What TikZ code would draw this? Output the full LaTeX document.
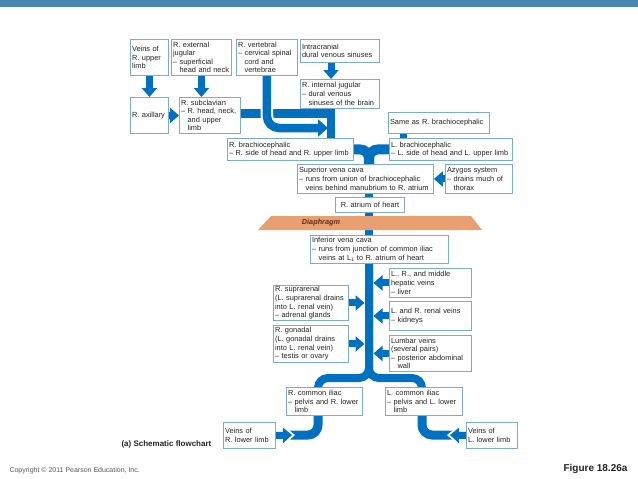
\documentclass[tikz,border=0pt]{standalone}
\usepackage{fontspec}
\setmainfont{Liberation Sans}
\usetikzlibrary{arrows.meta,backgrounds,calc}
\definecolor{vein}{RGB}{0,112,192}
\definecolor{boxc}{RGB}{125,172,202}
\definecolor{hdr}{RGB}{72,134,180}
\definecolor{diaph}{RGB}{233,160,112}
\definecolor{diatext}{RGB}{95,45,25}
\definecolor{txt}{RGB}{35,35,35}
\newcommand\ind{\hphantom{– }}
\tikzset{
  box/.style={draw=boxc, line width=0.9pt, fill=white, anchor=north west, align=left,
    inner xsep=1.6pt, inner ysep=0.5pt, font=\fontsize{7.4}{8.6}\selectfont, text=txt},
  band/.style={draw=vein, line width=8.5pt},
  varr/.style={draw=vein, line width=7pt, -{Triangle[width=15pt,length=9pt]}},
  warr/.style={draw=white, line width=7pt, -{Triangle[width=20pt,length=12pt]}},
}
\newcommand\vbx[7][]{%
  \pgfmathsetmacro\bxw{#5-#3}\pgfmathsetmacro\bxh{#6-#4}\pgfmathsetmacro\bxt{#5-#3-3.2}%
  \node[box,#1,minimum width=\bxw pt,minimum height=\bxh pt,text width=\bxt pt] (#2) at (#3,#4) {#7};}
\begin{document}
\begin{tikzpicture}[x=1pt,y=-1pt]
\useasboundingbox (0,0) rectangle (638,479);
\fill[hdr] (0,0) rectangle (638,7);

% boxes
\vbx{vul}{130}{39}{168}{75}{Veins of\\R. upper\\limb}
\vbx{rej}{171}{39}{231}{75}{R. external\\jugular\\– superficial\\\ind head and neck}
\vbx{rv}{236}{39}{297}{75}{R. vertebral\\– cervical spinal\\\ind cord and\\\ind vertebrae}
\vbx{ic}{300}{39}{379}{62}{Intracranial\\dural venous sinuses}
\vbx{rij}{300}{79}{379}{108}{R. internal jugular\\– dural  venous\\\ind sinuses of the brain}
\vbx{rax}{130}{97}{168}{133}{R. axillary}
\vbx{rsc}{179}{97}{240}{133}{R. subclavian\\– R. head, neck,\\\ind and upper\\\ind limb}
\vbx{same}{388}{112}{489}{133}{Same as R. brachiocephalic}
\vbx{rbc}{227}{138}{353}{160}{R. brachiocephalic\\– R. side of head and R. upper limb}
\vbx{lbc}{389}{138}{512}{160}{L. brachiocephalic\\– L. side of head and L. upper limb}
\vbx{svc}{297}{164}{433}{193}{Superior vena cava\\– runs from union of brachiocephalic\\\ind veins behind manubrium to R. atrium}
\vbx{az}{445}{164}{512}{193}{Azygos system\\– drains much of\\\ind thorax}
\vbx[align=center]{ra}{335}{197}{404}{212}{R. atrium of heart}
\vbx{ivc}{310}{235}{448}{263}{Inferior vena cava\\– runs from junction of common iliac\\\ind veins at L\textsubscript{1} to R. atrium of heart}
\vbx{hep}{389}{268}{471}{297}{L., R., and middle\\hepatic veins\\– liver}
\vbx{srn}{273}{285}{348}{320}{R. suprarenal\\(L. suprarenal drains\\into L. renal vein)\\– adrenal glands}
\vbx{ren}{389}{301}{471}{330}{L. and R. renal veins\\– kidneys}
\vbx{gon}{273}{325}{348}{362}{R. gonadal\\(L. gonadal drains\\into L. renal vein)\\– testis or ovary}
\vbx{lum}{389}{335}{471}{371}{Lumbar veins\\(several pairs)\\– posterior abdominal\\\ind wall}
\vbx{rci}{286}{387}{362}{415}{R. common iliac\\– pelvis and R. lower\\\ind limb}
\vbx{lci}{385}{387}{462}{415}{L. common iliac\\– pelvis and L. lower\\\ind limb}
\vbx{rll}{223}{422}{275}{448}{Veins of\\R. lower limb}
\vbx{lll}{466}{422}{517}{448}{Veins of\\L. lower limb}

\node[anchor=west, font=\fontsize{8}{9}\selectfont\bfseries, text=txt] (cap) at (118,444) {(a) Schematic flowchart};
\node[anchor=west, font=\fontsize{7}{8}\selectfont, text=black!65] (copy) at (6,471) {Copyright © 2011 Pearson Education, Inc.};
\node[anchor=east, font=\fontsize{10}{12}\selectfont\bfseries, text=txt] (fig) at (631,469) {Figure 18.26a};

% helper coordinates
\coordinate (ijx) at (331,0);
\coordinate (tx) at (369,0);
\coordinate (sx) at (403,0);
\coordinate (vtip) at (328,128);
\coordinate (tl) at (364.5,0);
\coordinate (tr) at (373.5,0);
\coordinate (split) at (0,378);
\coordinate (rlx) at (318,0);
\coordinate (llx) at (422,0);
\coordinate (rlb) at (284,435);
\coordinate (rlend) at (292,435);
\coordinate (llb) at (458,435);
\coordinate (llend) at (450,435);

\begin{scope}[on background layer]
  % head and neck
  \draw[varr] (vul.south) -- (rax.north);
  \draw[varr] (rej.south) -- (rej.south |- rsc.north);
  \draw[varr] (rax.east) -- (rsc.west);
  \draw[varr] (ic.south -| ijx) -- (rij.north -| ijx);
  \draw[band] (rij.south -| ijx) -- (rbc.north -| ijx);
  \draw[band] ([yshift=2pt]rsc.east) -- ([xshift=4pt,yshift=2pt]rsc.east -| ijx);
  \draw[white, line width=12.5pt, rounded corners=12pt, shorten >=9pt] (rv.south) |- (vtip);
  \draw[band, rounded corners=12pt, -{Triangle[width=17pt,length=10pt]}] (rv.south) |- (vtip);
  % brachiocephalic T
  \draw[band, line width=10pt, rounded corners=9pt] (rbc.east) -| (svc.north -| tx);
  \draw[band, line width=10pt, rounded corners=9pt] (lbc.west) -| (svc.north -| tx);
  \draw[band, line width=7pt] (same.south -| sx) -- (lbc.north -| sx);
  \draw[varr] (az.west) -- (svc.east);
  % central trunk
  \draw[band, line width=8pt] (svc.south -| tx) -- (ivc.north -| tx);
  \fill[diaph] (271,216) -- (471,216) -- (482,230) -- (258,230) -- cycle;
  % tributaries of IVC
  \draw[varr] (hep.west) -- (hep.west -| tr);
  \draw[varr] (srn.east) -- (srn.east -| tl);
  \draw[varr] (ren.west) -- (ren.west -| tr);
  \draw[varr] (gon.east) -- (gon.east -| tl);
  \draw[varr] (lum.west) -- (lum.west -| tr);
  % iliac split
  \draw[band, line width=8pt, rounded corners=10pt] (ivc.south -| tx) -- (tx |- split) -| (rci.north -| rlx);
  \draw[band, line width=8pt, rounded corners=10pt] (ivc.south -| tx) -- (tx |- split) -| (lci.north -| llx);
  % lower limbs
  \draw[band, line width=9pt, rounded corners=10pt] (rci.south -| rlx) |- (rlb);
  \draw[warr] (rll.east) -- ([xshift=3pt]rlend);
  \draw[varr] (rll.east) -- (rlend);
  \draw[band, line width=9pt, rounded corners=10pt] (lci.south -| llx) |- (llb);
  \draw[warr] (lll.west) -- ([xshift=-3pt]llend);
  \draw[varr] (lll.west) -- (llend);
\end{scope}
\node[font=\fontsize{7.3}{8.5}\selectfont\bfseries\itshape, text=diatext] (dia) at (321,223) {Diaphragm};
\end{tikzpicture}
\end{document}
